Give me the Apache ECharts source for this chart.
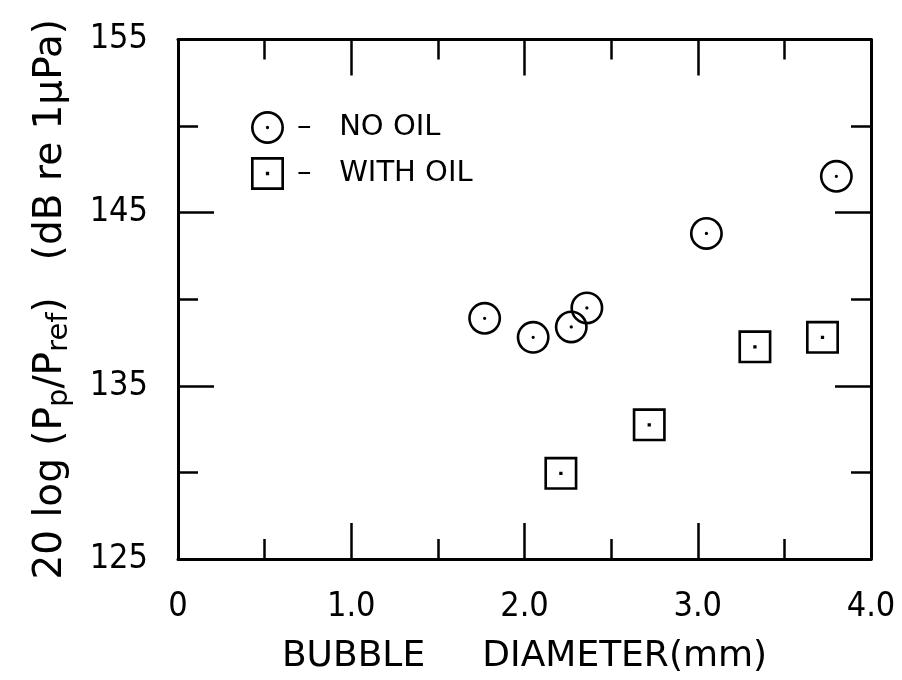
<!DOCTYPE html>
<html><head><meta charset="utf-8">
<script src="https://cdn.jsdelivr.net/npm/echarts@6/dist/echarts.min.js"></script>
<style>html,body{margin:0;padding:0;background:#fff}#c{width:902px;height:680px}</style>
</head><body><div id="c"></div>
<script>
const noOilX = [1.77, 2.05, 2.27, 2.36, 3.05, 3.80];
const noOilY = [138.9, 137.8, 138.4, 139.5, 143.8, 147.1];
const withOilX = [2.21, 2.72, 3.33, 3.72];
const withOilY = [129.95, 132.75, 137.25, 137.8];
const xTicks = ['0', '1.0', '2.0', '3.0', '4.0'];
const yTicks = ['125', '135', '145', '155'];
const seriesNames = ['–   NO OIL', '–   WITH OIL'];

const ring = 'path://M50,0 A50,50 0 1,1 50,100 A50,50 0 1,1 50,0 Z M50,8 A42,42 0 1,0 50,92 A42,42 0 1,0 50,8 Z M50,45 A5,5 0 1,1 50,55 A5,5 0 1,1 50,45 Z';
const box = 'path://M0,0 H100 V100 H0 Z M8,8 V92 H92 V8 Z M45,45 H55 V55 H45 Z';

const TICKFONT = '"DejaVu Sans Condensed", "Liberation Sans", sans-serif';
const FONT = '"DejaVu Sans", sans-serif';
const chart = echarts.init(document.getElementById('c'), null, {renderer: 'canvas'});
const axLine = () => ({show: true, onZero: false, lineStyle: {color: '#000', width: 3}});
const tick = () => ({show: true, inside: true, length: 36, lineStyle: {color: '#000', width: 2.5}});
const minor = () => ({show: true, splitNumber: 2, length: 20, lineStyle: {color: '#000', width: 2.5}});

chart.setOption({
  backgroundColor: '#fff',
  animation: false,
  grid: {left: 178, right: 31, top: 39.5, bottom: 121, containLabel: false, outerBoundsMode: 'none'},
  legend: {
    left: 246, top: 106, orient: 'vertical', itemGap: 13,
    itemWidth: 33, itemHeight: 33,
    textStyle: {fontFamily: FONT, fontSize: 29, color: '#000', padding: [0, 0, 0, 8]},
    data: seriesNames
  },
  xAxis: [{
    type: 'value', position: 'bottom', min: 0, max: 4, interval: 1,
    axisLine: axLine(), axisTick: tick(), minorTick: minor(), splitLine: {show: false},
    axisLabel: {margin: 31, fontFamily: TICKFONT, fontSize: 34, color: '#000',
      formatter: v => xTicks[Math.round(v)]},
    name: 'BUBBLE     DIAMETER(mm)', nameLocation: 'middle', nameGap: 80,
    nameTextStyle: {fontFamily: FONT, fontSize: 36, color: '#000'}
  }, {
    type: 'value', position: 'top', min: 0, max: 4, interval: 1,
    axisLine: axLine(), axisTick: tick(), minorTick: minor(), splitLine: {show: false},
    axisLabel: {show: false}
  }],
  yAxis: [{
    type: 'value', position: 'left', min: 125, max: 155, interval: 10,
    axisLine: axLine(), axisTick: tick(), minorTick: minor(), splitLine: {show: false},
    axisLabel: {margin: 30, fontFamily: TICKFONT, fontSize: 34, color: '#000',
      formatter: v => yTicks[Math.round((v - 125) / 10)]},
    name: '{n|20 log (P}{s|p}{n|/P}{s|ref}{n|)   (dB re 1\u03bcPa)}',
    nameLocation: 'middle', nameGap: 104, nameRotate: 90,
    nameTextStyle: {
      color: '#000',
      rich: {
        n: {fontFamily: FONT, fontSize: 39, color: '#000', lineHeight: 46, verticalAlign: 'middle'},
        s: {fontFamily: FONT, fontSize: 29, color: '#000', lineHeight: 46, verticalAlign: 'bottom'}
      }
    }
  }, {
    type: 'value', position: 'right', min: 125, max: 155, interval: 10,
    axisLine: axLine(), axisTick: tick(), minorTick: minor(), splitLine: {show: false},
    axisLabel: {show: false}
  }],
  series: [{
    name: seriesNames[0], type: 'scatter', symbol: ring, symbolSize: 33,
    itemStyle: {color: '#000', opacity: 1},
    data: noOilX.map((x, i) => [x, noOilY[i]])
  }, {
    name: seriesNames[1], type: 'scatter', symbol: box, symbolSize: 33,
    itemStyle: {color: '#000', opacity: 1},
    data: withOilX.map((x, i) => [x, withOilY[i]])
  }]
});
</script></body></html>
